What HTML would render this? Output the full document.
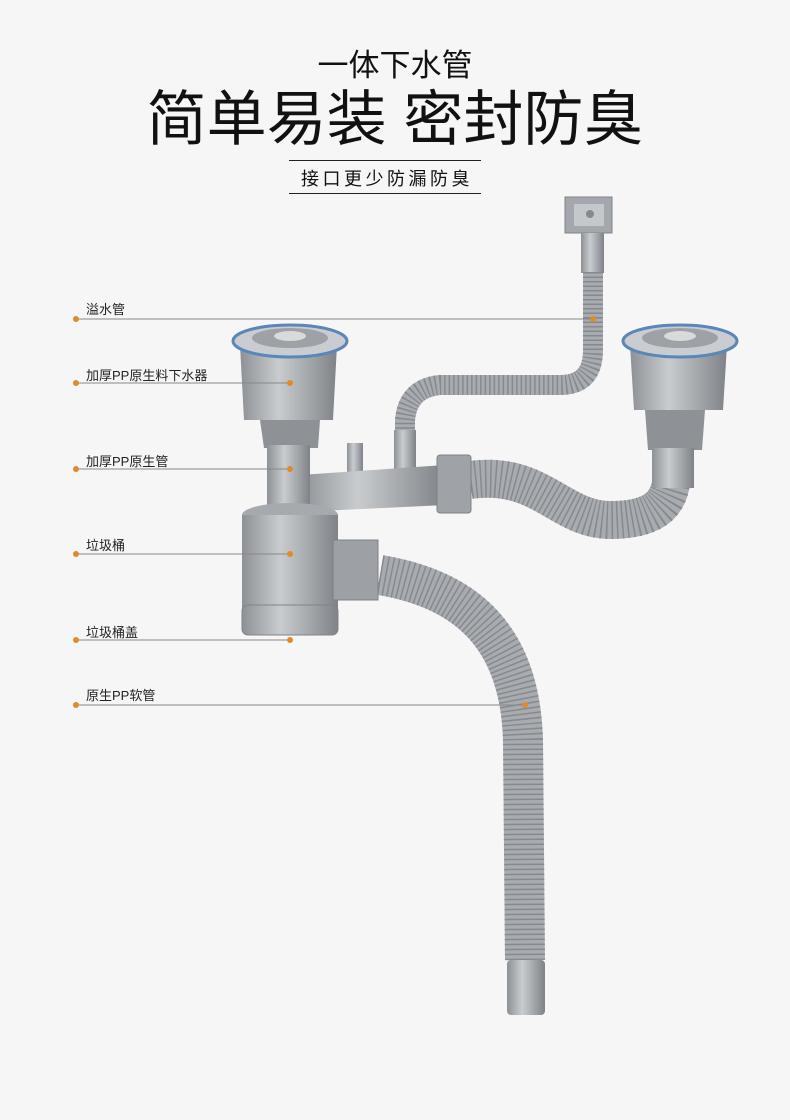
<!DOCTYPE html>
<html><head><meta charset="utf-8"><style>
html,body{margin:0;padding:0;background:#f6f6f6;}
.w{position:relative;width:790px;height:1120px;overflow:hidden;font-family:"Liberation Sans","Noto Sans CJK SC",sans-serif;}
.t{position:absolute;left:0;width:790px;text-align:center;color:#111;}
.lb{position:absolute;font-size:13px;color:#222;left:86px;}
</style></head><body><div class="w">
<div class="t" style="top:40px;font-size:31px;">一体下水管</div>
<div class="t" style="top:71px;font-size:60px;left:0px;letter-spacing:0px;">简单易装 密封防臭</div>
<div style="position:absolute;left:289px;top:160px;width:192px;border-top:1px solid #222;"></div>
<div style="position:absolute;left:289px;top:193px;width:192px;border-top:1px solid #222;"></div>
<div class="t" style="top:165px;font-size:18px;letter-spacing:3.5px;left:-8px;">接口更少防漏防臭</div>
<svg width="790" height="1120" style="position:absolute;left:0;top:0">
<defs>
<linearGradient id="g" x1="0" x2="1"><stop offset="0" stop-color="#8d9195"/><stop offset=".4" stop-color="#c9cccf"/><stop offset="1" stop-color="#7f8387"/></linearGradient>
</defs>
<rect x="565" y="197" width="47" height="36" fill="#a4a8ac" stroke="#80858a"/>
<rect x="574" y="204" width="30" height="22" fill="#c5c8cb"/>
<circle cx="590" cy="214" r="4" fill="#888"/>
<rect x="581" y="233" width="23" height="40" fill="url(#g)"/>
<g fill="none" stroke-linecap="butt">
<path d="M593 272 L593 350 Q593 385 560 385 L440 385 Q408 388 405 420 L405 440" stroke="#a8acb0" stroke-width="20"/>
<path d="M593 272 L593 350 Q593 385 560 385 L440 385 Q408 388 405 420 L405 440" stroke="#868a8e" stroke-width="20" stroke-dasharray="1.5 3"/>
<path d="M470 480 C540 470 560 520 610 520 C660 520 672 500 672 470" stroke="#a8acb0" stroke-width="38"/>
<path d="M470 480 C540 470 560 520 610 520 C660 520 672 500 672 470" stroke="#868a8e" stroke-width="38" stroke-dasharray="1.5 3.5"/>
<path d="M380 575 C470 590 520 640 523 740 L525 960" stroke="#a8acb0" stroke-width="40"/>
<path d="M380 575 C470 590 520 640 523 740 L525 960" stroke="#868a8e" stroke-width="40" stroke-dasharray="1.5 3.5"/>
</g>
<rect x="394" y="430" width="22" height="45" fill="url(#g)"/>
<rect x="347" y="443" width="16" height="38" fill="url(#g)"/>
<path d="M300 475 L445 465 L445 505 L300 512 Z" fill="url(#g)"/>
<rect x="437" y="455" width="34" height="58" rx="3" fill="#9fa3a7" stroke="#7d8185"/>
<path d="M240 345 L337 345 L333 420 L244 420 Z" fill="url(#g)"/>
<path d="M260 420 L320 420 L318 448 L264 448 Z" fill="#8e9296"/>
<rect x="267" y="445" width="43" height="80" fill="url(#g)"/>
<ellipse cx="290" cy="341" rx="57" ry="16" fill="#c9ccd0" stroke="#5a86b8" stroke-width="3"/>
<ellipse cx="290" cy="338" rx="38" ry="10" fill="#9ea2a6"/>
<ellipse cx="290" cy="336" rx="16" ry="5" fill="#d8dadc"/>
<path d="M630 345 L727 345 L723 410 L634 410 Z" fill="url(#g)"/>
<path d="M645 410 L705 410 L702 450 L648 450 Z" fill="#8e9296"/>
<rect x="652" y="448" width="42" height="40" fill="url(#g)"/>
<ellipse cx="680" cy="341" rx="57" ry="16" fill="#c9ccd0" stroke="#5a86b8" stroke-width="3"/>
<ellipse cx="680" cy="338" rx="38" ry="10" fill="#9ea2a6"/>
<ellipse cx="680" cy="336" rx="16" ry="5" fill="#d8dadc"/>
<ellipse cx="290" cy="515" rx="48" ry="12" fill="#a6aaae"/>
<rect x="242" y="515" width="96" height="110" fill="url(#g)"/>
<rect x="242" y="605" width="96" height="30" rx="6" fill="url(#g)" stroke="#80848a"/>
<rect x="333" y="540" width="45" height="60" fill="#9da1a5" stroke="#7d8185"/>
<rect x="507" y="960" width="38" height="55" rx="4" fill="url(#g)"/>
<g stroke="#888" stroke-width="1">
<line x1="76" y1="319" x2="593" y2="319"/>
<line x1="76" y1="383" x2="290" y2="383"/>
<line x1="76" y1="469" x2="290" y2="469"/>
<line x1="76" y1="554" x2="290" y2="554"/>
<line x1="76" y1="640" x2="290" y2="640"/>
<line x1="76" y1="705" x2="525" y2="705"/>
</g>
<g fill="#e08a2c">
<circle cx="76" cy="319" r="3"/><circle cx="593" cy="319" r="3"/>
<circle cx="76" cy="383" r="3"/><circle cx="290" cy="383" r="3"/>
<circle cx="76" cy="469" r="3"/><circle cx="290" cy="469" r="3"/>
<circle cx="76" cy="554" r="3"/><circle cx="290" cy="554" r="3"/>
<circle cx="76" cy="640" r="3"/><circle cx="290" cy="640" r="3"/>
<circle cx="76" cy="705" r="3"/><circle cx="525" cy="705" r="3"/>
</g>
</svg>
<div class="lb" style="top:299px">溢水管</div>
<div class="lb" style="top:365px">加厚PP原生料下水器</div>
<div class="lb" style="top:451px">加厚PP原生管</div>
<div class="lb" style="top:535px">垃圾桶</div>
<div class="lb" style="top:622px">垃圾桶盖</div>
<div class="lb" style="top:685px">原生PP软管</div>
</div></body></html>
